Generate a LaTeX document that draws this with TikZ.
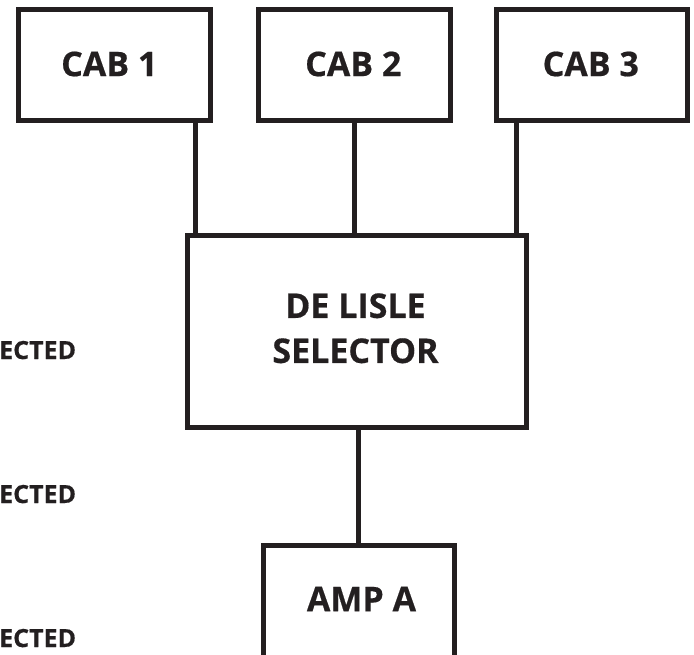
\documentclass[tikz,border=0pt]{standalone}
\usepackage{fontspec}
\setmainfont{Open Sans}[BoldFeatures={FakeBold=0.5}]
\usepackage{xcolor}
\usepackage{tikz}
\usetikzlibrary{positioning}
\definecolor{inkdark}{HTML}{231F20}

\begin{document}
\begin{tikzpicture}[
      x=1pt, y=-1pt,
      box/.style={draw=inkdark, line width=5pt, inner sep=0pt},
      boxtext/.style={inner sep=0pt, align=center, text=inkdark, font=\fontsize{34}{45}\selectfont\bfseries},
      wire/.style={draw=inkdark, line width=5pt},
      cut/.style={anchor=base west, inner sep=0pt, text=inkdark, font=\fontsize{25}{30}\selectfont\bfseries}
    ]
    \useasboundingbox (0,0) rectangle (694,654);
    \node[box, minimum width=192pt, minimum height=110.5pt] (cab1) at (114.2,65) {};
    \node[box, minimum width=191.6pt, minimum height=110.5pt] (cab2) at (354.4,65) {};
    \node[box, minimum width=191.4pt, minimum height=110.5pt] (cab3) at (591.7,65) {};
    \node[box, minimum width=338.5pt, minimum height=191.8pt] (selector) at (356.85,331.5) {};
    \node[box, minimum width=191.7pt, minimum height=115pt] (ampa) at (359,603) {};

    \node[boxtext] (cab1text) at (109.3,64) {CAB 1};
    \node[boxtext] (cab2text) at (353.3,64) {CAB 2};
    \node[boxtext] (cab3text) at (590.8,64) {CAB 3};
    \node[boxtext] (selectortext) at (355.5,328.3) {DE LISLE\\SELECTOR};
    \node[boxtext] (ampatext) at (361.5,599) {AMP A};

    \draw[wire] (cab1.south -| 195,0) -- (selector.north -| 195,0);
    \draw[wire] (cab2.south -| 354.2,0) -- (selector.north -| 354.2,0);
    \draw[wire] (cab3.south -| 516.8,0) -- (selector.north -| 516.8,0);
    \draw[wire] (selector.south -| 358.2,0) -- (ampa.north -| 358.2,0);

    \node[cut] (label1) at (-1,359) {ECTED};
    \node[cut] (label2) at (-1,503) {ECTED};
    \node[cut] (label3) at (-1,647) {ECTED};
  \end{tikzpicture}
\end{document}
